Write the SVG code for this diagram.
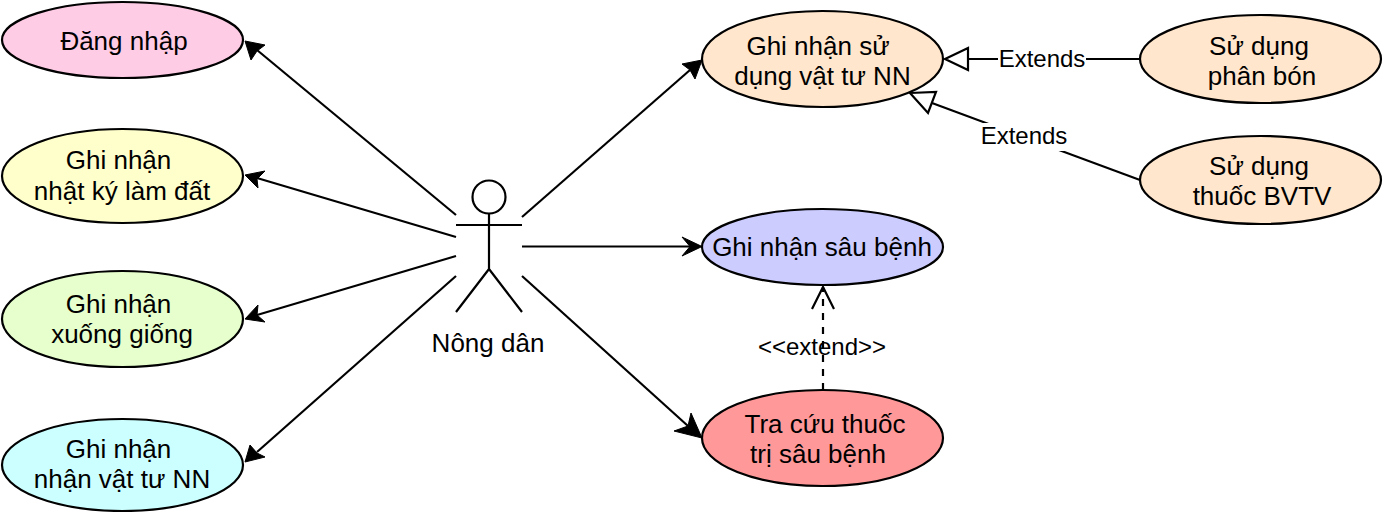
<svg xmlns="http://www.w3.org/2000/svg" width="1383" height="512" viewBox="0 0 1383 512">
<style>
text{font-family:"Liberation Sans",Arial,sans-serif;font-size:26px;fill:#000;text-anchor:middle}
.lbl{font-size:24px}
ellipse{stroke:#000;stroke-width:2.2}
.c{fill:none;stroke:#000;stroke-width:2.2}
.a{fill:#000;stroke:#000;stroke-width:1}
.o{fill:#fff;stroke:#000;stroke-width:2.2}
</style>
<rect width="1383" height="512" fill="#fff"/>
<g id="connectors">
<path class="c" d="M456 215L257 50"/><path class="a" d="M245 41L265 45L257 51L251 60Z"/>
<path class="c" d="M456 237L257 178"/><path class="a" d="M245 175L265 171L257 179L258 188Z"/>
<path class="c" d="M456 256L257 315"/><path class="a" d="M245 319L258 305L257 315L265 322Z"/>
<path class="c" d="M456 276L257 452"/><path class="a" d="M245 462L250 445L257 453L265 457Z"/>
<path class="c" d="M522 217L690 70"/><path class="a" d="M702 60L695 79L690 70L682 64Z"/>
<path class="c" d="M522 246.500L690 246.500"/><path class="a" d="M702 246.500L682 237L690 246.500L682 256Z"/>
<path class="c" d="M522 276L688 426"/><path class="a" d="M702 438L674 431L688 426L691 413Z"/>
<path class="c" d="M1140 59H969"/><path class="o" d="M945 59L968 48V70Z"/>
<path class="c" d="M1140 180L932 103"/><path class="o" d="M910 93L936 92L928 113Z"/>
<path class="c" d="M823 390V287" stroke-dasharray="7 7"/>
<path class="c" d="M812 309L823 287L834 309"/>
<rect x="998" y="46" width="88" height="26" fill="#fff"/>
<text class="lbl" x="1042" y="67">Extends</text>
<rect x="980" y="123" width="88" height="28" fill="#fff"/>
<text class="lbl" x="1024" y="144">Extends</text>
<text class="lbl" x="822" y="355">&lt;&lt;extend&gt;&gt;</text>
</g>
<g id="actor" class="c">
<circle cx="489" cy="197" r="16.5"/>
<path d="M489 214V269M456 225H522M489 269L456 312M489 269L522 312"/>
<text x="488" y="352" stroke="none" style="fill:#000">Nông dân</text>
</g>
<g id="n1"><ellipse cx="122.500" cy="40" rx="120.500" ry="38" fill="#ffcce6"/><text x="124" y="50">Đăng nhập</text></g>
<g id="n2"><ellipse cx="122.500" cy="176" rx="120.500" ry="47" fill="#ffffcc"/><text x="118.500" y="169">Ghi nhận</text><text x="122" y="200">nhật ký làm đất</text></g>
<g id="n3"><ellipse cx="122.500" cy="319" rx="120.500" ry="48" fill="#e6ffcc"/><text x="118.500" y="313">Ghi nhận</text><text x="122" y="343">xuống giống</text></g>
<g id="n4"><ellipse cx="122.500" cy="465" rx="120.500" ry="46" fill="#ccffff"/><text x="118.500" y="458">Ghi nhận</text><text x="122" y="488">nhận vật tư NN</text></g>
<g id="n5"><ellipse cx="822.500" cy="59" rx="120.500" ry="48" fill="#ffe6cc"/><text x="818" y="55">Ghi nhận sử</text><text x="822.500" y="85">dụng vật tư NN</text></g>
<g id="n6"><ellipse cx="822.500" cy="247" rx="120.500" ry="38" fill="#ccccff"/><text x="822" y="256">Ghi nhận sâu bệnh</text></g>
<g id="n7"><ellipse cx="822.500" cy="438" rx="120.500" ry="48" fill="#ff9999"/><text x="825" y="433">Tra cứu thuốc</text><text x="818" y="463">trị sâu bệnh</text></g>
<g id="n8"><ellipse cx="1260.500" cy="59" rx="120.500" ry="44" fill="#ffe6cc"/><text x="1259" y="55">Sử dụng</text><text x="1262" y="85">phân bón</text></g>
<g id="n9"><ellipse cx="1260.500" cy="180" rx="120.500" ry="44" fill="#ffe6cc"/><text x="1259" y="175">Sử dụng</text><text x="1262" y="205">thuốc BVTV</text></g>
</svg>
